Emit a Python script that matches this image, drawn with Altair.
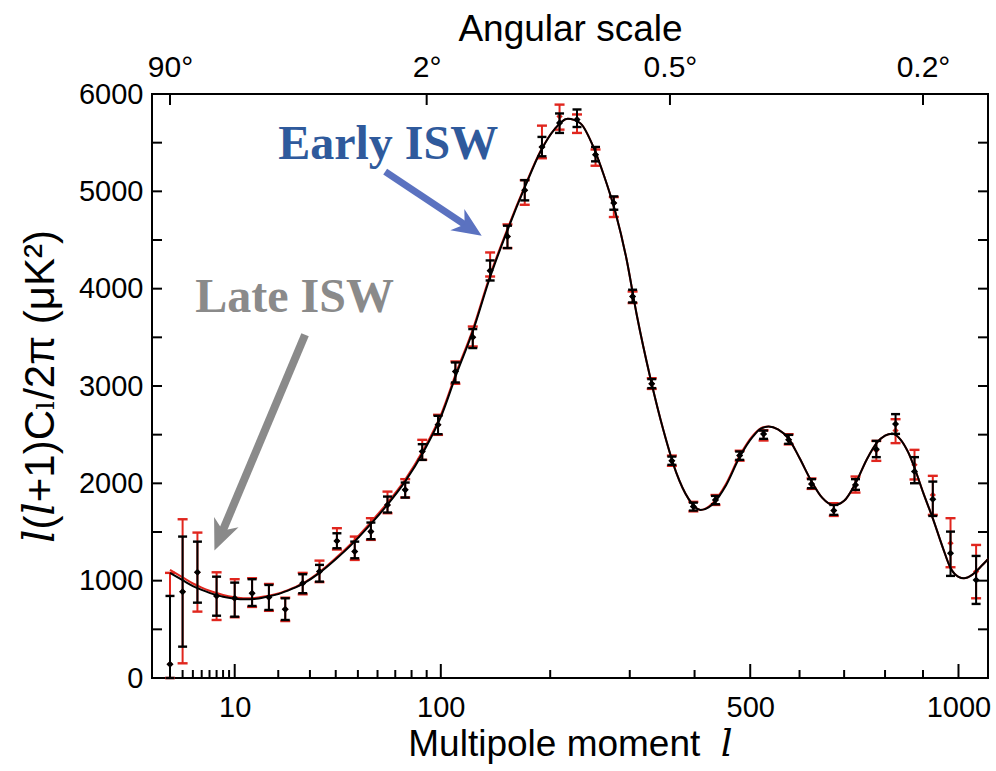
import altair as alt
import pandas as pd

# ---------------- data ----------------
# binned multipoles
bin_l = [2, 3, 4.5, 7, 10, 13.5, 17.5, 22, 27.5, 33.5, 40.5, 48.5, 56.5, 65.5, 76, 87, 98,
         111, 125, 140, 156, 173, 191, 210.5, 231, 254, 278, 304, 332, 363, 398, 436, 480,
         526, 577, 626, 676, 727, 778, 827, 877, 927, 977, 1052]
# black data set
blk_val = [141, 887, 1086, 843, 819, 871, 830, 706, 973, 1093, 1408, 1299, 1504, 1778, 1933,
           2327, 2601, 3149, 3500, 4185, 4537, 5011, 5456, 5703, 5737, 5377, 4880, 3920, 3023,
           2231, 1761, 1830, 2286, 2508, 2447, 1994, 1720, 1984, 2351, 2609, 2121, 1837, 1282, 1007]
blk_lo = [0, 322, 774, 640, 630, 740, 699, 596, 871, 990, 1333, 1230, 1426, 1700, 1854, 2241,
          2505, 3036, 3390, 4084, 4417, 4907, 5360, 5600, 5661, 5308, 4811, 3858, 2978, 2190,
          1720, 1785, 2241, 2457, 2406, 1950, 1676, 1933, 2269, 2508, 2001, 1665, 1049, 761]
blk_hi = [843, 1453, 1401, 1041, 980, 1015, 956, 819, 1066, 1162, 1487, 1401, 1597, 1864, 2008,
          2402, 2694, 3242, 3585, 4290, 4647, 5115, 5559, 5800, 5841, 5456, 4948, 3989, 3071,
          2275, 1802, 1871, 2327, 2542, 2498, 2043, 1778, 2043, 2436, 2711, 2269, 2018, 1504, 1254]
# red data set
red_val = [141, 887, 1086, 843, 819, 871, 830, 706, 973, 1093, 1408, 1299, 1504, 1778, 1933,
           2327, 2601, 3149, 3500, 4185, 4537, 5011, 5456, 5770, 5737, 5377, 4880, 3920, 3023,
           2231, 1761, 1830, 2286, 2508, 2447, 1994, 1720, 1984, 2340, 2542, 2190, 1881, 1385, 1093]
red_lo = [0, 151, 682, 596, 624, 730, 690, 585, 860, 985, 1320, 1213, 1419, 1693, 1854, 2241,
          2498, 3023, 3406, 4125, 4417, 4862, 5340, 5634, 5600, 5263, 4736, 3852, 2970, 2180,
          1712, 1778, 2233, 2440, 2400, 1943, 1665, 1905, 2231, 2413, 2040, 1676, 1138, 819]
red_hi = [1080, 1631, 1494, 1086, 1015, 1025, 966, 825, 1080, 1206, 1539, 1453, 1642, 1915, 2043,
          2447, 2704, 3252, 3611, 4372, 4660, 5115, 5675, 5891, 5790, 5430, 4941, 3971, 3080,
          2285, 1810, 1880, 2335, 2545, 2505, 2050, 1796, 2070, 2436, 2659, 2344, 2077, 1642, 1367]

# model curves
model_l = [2, 3, 4, 5, 6, 7, 8, 10, 12, 14, 17, 20, 24, 28, 33, 40, 47, 55, 65, 76, 88, 100,
           112, 125, 140, 156, 173, 190, 205, 220, 235, 250, 265, 280, 295, 310, 330, 350, 370,
           390, 410, 430, 455, 480, 505, 520, 536, 555, 577, 600, 626, 650, 676, 700, 727, 755,
           780, 800, 818, 840, 860, 877, 900, 927, 955, 977, 1000, 1016, 1040, 1065, 1088]
model_black = [1080, 1005, 945, 905, 875, 853, 835, 815, 808, 812, 835, 862, 915, 975, 1070, 1220,
               1370, 1550, 1770, 2020, 2330, 2680, 3130, 3560, 4120, 4600, 5040, 5420, 5640, 5745,
               5700, 5480, 5160, 4790, 4320, 3730, 3080, 2540, 2110, 1840, 1725, 1780, 1980, 2270,
               2480, 2560, 2585, 2555, 2460, 2260, 2020, 1850, 1775, 1820, 2000, 2250, 2420, 2490,
               2510, 2450, 2320, 2160, 1910, 1640, 1340, 1130, 1040, 1025, 1060, 1140, 1220]
model_red = [1110, 1033, 971, 929, 897, 873, 853, 830, 820, 822, 843, 868, 920, 980, 1078, 1232,
             1385, 1568, 1790, 2040, 2350, 2700, 3150, 3580, 4140, 4615, 5050, 5425, 5640, 5745,
             5700, 5480, 5160, 4790, 4320, 3730, 3080, 2540, 2110, 1840, 1725, 1790, 1995, 2285,
             2490, 2565, 2585, 2555, 2460, 2260, 2020, 1850, 1775, 1820, 2000, 2250, 2420, 2490,
             2510, 2450, 2320, 2160, 1910, 1640, 1340, 1130, 1040, 1025, 1060, 1140, 1220]

# axes
x_label_values = [10, 100, 500, 1000]
x_minor_ticks = [2, 3, 4, 5, 6, 7, 8, 9, 20, 30, 40, 50, 60, 70, 80, 90, 200, 300, 400, 600, 700, 800, 900]
x_major_ticks = [10, 100, 500, 1000]
angle_l = [2, 90, 360, 900]
angle_labels = ["90°", "2°", "0.5°", "0.2°"]
y_label_values = [0, 1000, 2000, 3000, 4000, 5000, 6000]
y_tick_values = [500, 1000, 1500, 2000, 2500, 3000, 3500, 4000, 4500, 5000, 5500]

# annotations
early_text = ["Early ISW"]
early_text_pos = [65.9, 5335]
early_arrow_l = [64.2, 121.5]
early_arrow_v = [5202, 4633]
early_head = [121.5, 4633]
late_text = ["Late ISW"]
late_text_pos = [24.85, 3762]
late_arrow_l = [28.3, 7.65]
late_arrow_v = [3526, 1468]
late_head = [7.65, 1468]

# ---------------- chart ----------------
W, H = 836, 584
FONT = "Liberation Sans"
MIXED = "Liberation Sans, DejaVu Serif, DejaVu Sans"
SERIF = "Liberation Serif"
LBL = 29
NB = "\u00a0"

blk = pd.DataFrame({"l": bin_l, "v": blk_val, "lo": blk_lo, "hi": blk_hi})
red = pd.DataFrame({"l": bin_l, "v": red_val, "lo": red_lo, "hi": red_hi})
model = pd.DataFrame({"l": model_l, "black": model_black, "red": model_red})

xscale = alt.Scale(type="pow", exponent=0.4, domain=[0.97, 1088], nice=False, zero=False)
yscale = alt.Scale(domain=[0, 6000], nice=False, zero=False)

ytitle = "𝑙(𝑙+1)C\u2097/2\u03c0 (\u03bcK\u00b2)"
yaxis = alt.Axis(values=y_label_values, format="d", ticks=False, domain=False, grid=False,
                 labelFontSize=LBL, labelPadding=9, labelFont=FONT, labelColor="black",
                 title=ytitle, titleFont=MIXED, titleFontSize=42, titleFontWeight="normal",
                 titleColor="black", titlePadding=16)

xaxis_bottom = alt.Axis(orient="bottom", values=x_label_values, format="d", ticks=False,
                        domain=False, grid=False, labelFontSize=LBL, labelFont=FONT,
                        labelColor="black", labelPadding=15, labelFlush=False,
                        title="Multipole moment" + NB + " 𝑙", titleFont=MIXED,
                        titleFontSize=37, titleFontWeight="normal", titleColor="black",
                        titlePadding=4)

label_expr = " : ".join(f"datum.value == {v} ? '{t}'" for v, t in zip(angle_l, angle_labels)) + " : ''"
xaxis_top = alt.Axis(orient="top", values=angle_l, labelExpr=label_expr, ticks=False,
                     domain=False, grid=False, labelFontSize=30, labelFont=FONT,
                     labelColor="black", labelPadding=12, labelFlush=False,
                     title="Angular scale", titleFont=FONT, titleFontSize=37,
                     titleFontWeight="normal", titleColor="black", titlePadding=4)


def X(field, axis=None):
    return alt.X(f"{field}:Q", scale=xscale, axis=axis)


def Y(field):
    return alt.Y(f"{field}:Q", scale=yscale, axis=yaxis)


RED = "#e0261e"

red_bars = alt.Chart(red).mark_rule(color=RED, strokeWidth=2).encode(
    x=X("l"), y=Y("lo"), y2="hi")
red_caps = alt.Chart(red).transform_fold(["lo", "hi"], as_=["k", "cv"]).mark_tick(
    color=RED, orient="horizontal", size=10, thickness=2.4, opacity=1).encode(
    x=X("l"), y=Y("cv"))
red_pts = alt.Chart(red).mark_point(shape="diamond", filled=True, size=40, color=RED, opacity=1).encode(
    x=X("l"), y=Y("v"))

red_line = alt.Chart(model).mark_line(color=RED, strokeWidth=2, interpolate="monotone").encode(
    x=X("l"), y=Y("red"))
blk_line = alt.Chart(model).mark_line(color="black", strokeWidth=2, interpolate="monotone").encode(
    x=X("l"), y=Y("black"))

blk_bars = alt.Chart(blk).mark_rule(color="black", strokeWidth=2).encode(
    x=X("l"), y=Y("lo"), y2="hi")
blk_caps = alt.Chart(blk).transform_fold(["lo", "hi"], as_=["k", "cv"]).mark_tick(
    color="black", orient="horizontal", size=9, thickness=2.4, opacity=1).encode(
    x=X("l"), y=Y("cv"))
blk_pts = alt.Chart(blk).mark_point(shape="diamond", filled=True, size=50, color="black", opacity=1).encode(
    x=X("l", xaxis_bottom), y=Y("v"))

# inward ticks
minor_df = pd.DataFrame({"l": x_minor_ticks})
major_df = pd.DataFrame({"l": x_major_ticks})
top_df = pd.DataFrame({"l": angle_l})
ytick_df = pd.DataFrame({"v": y_tick_values})

tick_minor = alt.Chart(minor_df).mark_rule(color="black", strokeWidth=2).encode(
    x=X("l"), y=alt.value(H), y2=alt.value(H - 8))
tick_major = alt.Chart(major_df).mark_rule(color="black", strokeWidth=2).encode(
    x=X("l"), y=alt.value(H), y2=alt.value(H - 14))
tick_top = alt.Chart(top_df).mark_rule(color="black", strokeWidth=2).encode(
    x=X("l", xaxis_top), y=alt.value(0), y2=alt.value(11))
tick_left = alt.Chart(ytick_df).mark_rule(color="black", strokeWidth=2).encode(
    y=Y("v"), x=alt.value(0), x2=alt.value(10))
tick_right = alt.Chart(ytick_df).mark_rule(color="black", strokeWidth=2).encode(
    y=Y("v"), x=alt.value(W - 10), x2=alt.value(W))

# annotations
HEAD = "M0,-1 L0.8,0.85 L0,0.3 L-0.8,0.85 Z"
EARLY_TXT = "#2f5a9c"
EARLY_ARR = "#5b72c0"
GREY = "#8a8a8a"

early_t = alt.Chart(pd.DataFrame({"l": [early_text_pos[0]], "v": [early_text_pos[1]], "t": early_text})).mark_text(
    font=SERIF, fontSize=48, fontWeight="bold", color=EARLY_TXT, align="center", baseline="alphabetic").encode(
    x=X("l"), y=Y("v"), text="t:N")
early_a = alt.Chart(pd.DataFrame({"l": early_arrow_l, "v": early_arrow_v})).mark_line(
    color=EARLY_ARR, strokeWidth=7).encode(x=X("l"), y=Y("v"))
early_h = alt.Chart(pd.DataFrame({"l": [early_head[0]], "v": [early_head[1]]})).mark_point(
    shape=HEAD, filled=True, size=1000, color=EARLY_ARR, opacity=1, angle=123.6).encode(
    x=X("l"), y=Y("v"))

late_t = alt.Chart(pd.DataFrame({"l": [late_text_pos[0]], "v": [late_text_pos[1]], "t": late_text})).mark_text(
    font=SERIF, fontSize=48, fontWeight="bold", color=GREY, align="center", baseline="alphabetic").encode(
    x=X("l"), y=Y("v"), text="t:N")
late_a = alt.Chart(pd.DataFrame({"l": late_arrow_l, "v": late_arrow_v})).mark_line(
    color=GREY, strokeWidth=8).encode(x=X("l"), y=Y("v"))
late_h = alt.Chart(pd.DataFrame({"l": [late_head[0]], "v": [late_head[1]]})).mark_point(
    shape=HEAD, filled=True, size=1100, color=GREY, opacity=1, angle=202.8).encode(
    x=X("l"), y=Y("v"))

chart = alt.layer(
    red_bars, red_caps, red_pts, red_line, blk_line, blk_bars, blk_caps, blk_pts,
    tick_minor, tick_major, tick_top, tick_left, tick_right,
    early_a, early_h, early_t, late_a, late_h, late_t,
).resolve_axis(x="independent").properties(
    width=W, height=H,
    autosize=alt.AutoSizeParams(type="none"),
    padding={"left": 152, "top": 94, "right": 8, "bottom": 93},
    background="white",
).configure_view(stroke="black", strokeWidth=2)

chart.save("out.html", embed_options={"renderer": "svg", "actions": False})
